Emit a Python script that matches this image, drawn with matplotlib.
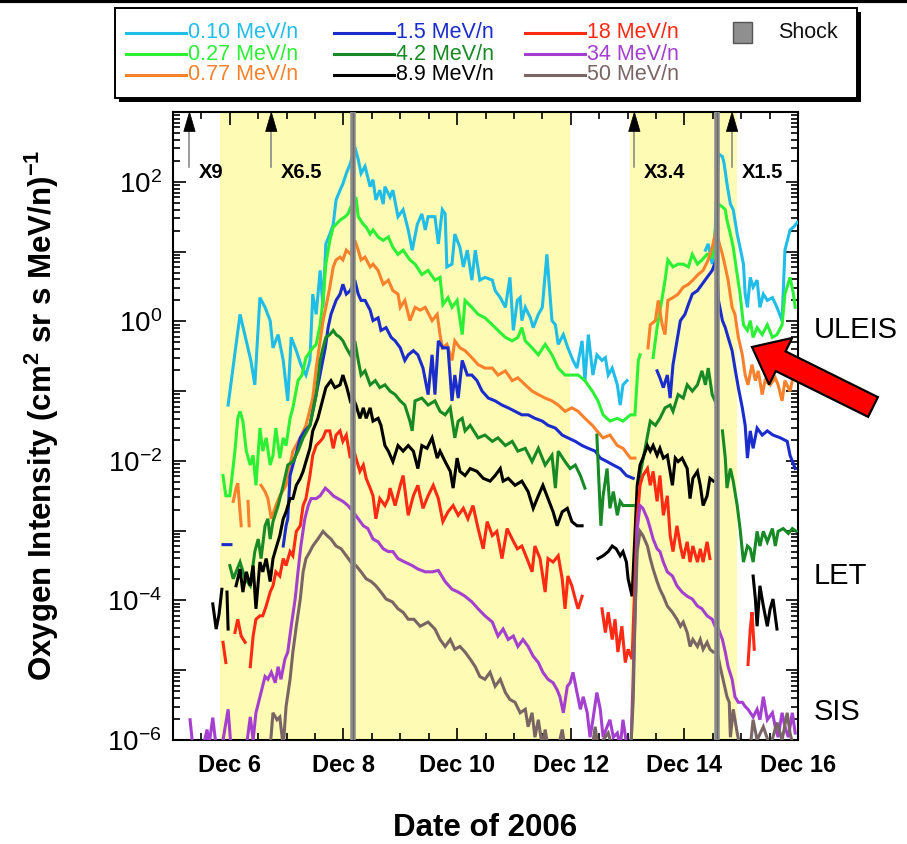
import numpy as np
import matplotlib
matplotlib.use("Agg")
import matplotlib.pyplot as plt
from matplotlib.patches import Rectangle, FancyArrow, Polygon
from matplotlib.ticker import FixedLocator, NullFormatter, FuncFormatter, MultipleLocator, LogLocator

plt.rcParams['font.family'] = ['Liberation Sans', 'DejaVu Sans']
plt.rcParams['mathtext.fontset'] = 'custom'
plt.rcParams['mathtext.rm'] = 'Liberation Sans'
plt.rcParams['mathtext.bf'] = 'Liberation Sans:bold'
plt.rcParams['mathtext.it'] = 'Liberation Sans:italic'

# ---------------------------------------------------------------
# Oxygen intensities, December 2006 (time in day-of-month,
# intensity given as log10 of (cm^2 sr s MeV/n)^-1; None = data gap)
# ---------------------------------------------------------------
energies = ['0.10', '0.27', '0.77', '1.5', '4.2', '8.9', '18', '34', '50']
colors = ['#1fbde8', '#2cf035', '#f9812c', '#1a2ccc', '#178a25',
          '#000000', '#ff2a14', '#a43fd0', '#7a6565']

t_010 = [5.97, 6.18, 6.37, 6.44, 6.53, 6.62, 6.71, 6.76, 6.85, 6.94, 7.02, 7.08, 7.17, 7.25, 7.34,
         7.41, 7.46, 7.52, 7.59, 7.64, 7.69, 7.76, 7.82, 7.87, 7.94, 7.99, 8.05, 8.12, 8.20, 8.26,
         8.31, 8.38, 8.47, 8.52, 8.57, 8.64, 8.70, 8.73, 8.82, 8.87, 8.96, 9.05, 9.14, 9.21, 9.30,
         9.38, 9.44, 9.49, 9.61, 9.67, 9.74, 9.79, 9.82, 9.91, 9.96, 10.05, 10.11, 10.18, 10.26,
         10.32, 10.40, 10.49, 10.62, 10.67, 10.76, 10.85, 10.93, 10.99, 11.06, 11.11, 11.14, 11.20,
         11.29, 11.34, 11.43, 11.50, 11.58, 11.67, 11.73, 11.78, 11.87, 11.95, 12.04, 12.11, 12.20,
         12.25, 12.31, 12.39, 12.46, 12.55, 12.61, 12.66, 12.73, 12.82, 12.87, 12.92, 12.99, 13.00,
         14.37, 14.42, 14.49, 14.54, 14.60, 14.67, 14.70, 14.75, 14.81, 14.86, 14.93, 14.98, 15.04,
         15.07, 15.11, 15.16, 15.21, 15.28, 15.33, 15.39, 15.46, 15.55, 15.63, 15.72, 15.77, 15.86,
         15.92, 15.99]
lg_010 = [-1.20, 0.10, -0.56, -0.91, 0.34, 0.20, 0.01, -0.38, -0.19, -0.56, -1.14, -0.23, -0.42, -0.62, -0.77,
          -0.56, 0.39, 0.10, 0.73, 0.20, 1.11, 1.25, 1.39, 1.74, 1.88, 1.97, 2.12, 2.26, 2.50, 2.32,
          2.12, 2.22, 1.93, 2.03, 1.74, 1.88, 1.68, 1.93, 1.78, 1.88, 1.50, 1.60, 1.31, 1.02, 1.39,
          1.54, 1.31, 1.50, 1.50, 1.11, 1.60, 1.54, 0.78, 0.82, 1.25, 1.06, 0.78, 1.02, 0.59,
          1.02, 0.59, 0.63, 0.59, 0.44, 0.34, 0.20, 0.63, -0.13, 0.30, 0.34, 0.01, 0.20,
          0.05, -0.09, 0.10, 0.20, 0.96, 0.01, -0.05, -0.33, -0.19, -0.38, -0.56, -0.67, -0.28,
          -0.85, -0.19, -0.77, -0.48, -0.56, -0.52, -0.77, -0.67, -0.91, -1.20, -0.91, -0.85, None,
          1.02, 1.11, 0.82, 1.25, 2.40, 2.36, 2.26, 1.97, 1.68, 1.60, 1.25, 1.06, 0.82,
          0.39, 0.20, 0.63, 0.49, 0.59, 0.20, 0.39, 0.30, 0.34, 0.20, 0.01, 1.02, 1.31,
          1.35, 1.42]

t_027 = [5.88, 5.93, 6.00, 6.09, 6.14, 6.18, 6.23, 6.29, 6.36, 6.41, 6.46, 6.53, 6.58, 6.64, 6.71,
         6.76, 6.81, 6.88, 6.94, 6.99, 7.06, 7.11, 7.20, 7.27, 7.34, 7.46, 7.52, 7.59, 7.64, 7.69,
         7.76, 7.82, 7.87, 7.94, 8.03, 8.08, 8.13, 8.22, 8.26, 8.35, 8.40, 8.47, 8.52, 8.61, 8.70,
         8.79, 8.87, 8.96, 9.05, 9.17, 9.26, 9.38, 9.49, 9.61, 9.70, 9.75, 9.84, 9.91, 10.00, 10.09,
         10.14, 10.26, 10.37, 10.49, 10.62, 10.72, 10.85, 10.97, 11.07, 11.14, 11.20, 11.32, 11.43,
         11.55, 11.67, 11.78, 11.90, 12.02, 12.13, 12.25, 12.38, 12.48, 12.57, 12.69, 12.82, 12.92,
         13.05, 13.13, 13.19, 13.22, 13.30,
         13.45, 13.52, 13.61, 13.66, 13.71, 13.80, 13.89, 13.98, 14.07, 14.14, 14.23, 14.31, 14.40,
         14.49, 14.54, 14.56, 14.60, 14.67, 14.72, 14.75, 14.81, 14.86, 14.93, 14.98, 15.04, 15.11,
         15.16, 15.21, 15.28, 15.37, 15.46, 15.55, 15.63, 15.72, 15.77, 15.86, 15.92, 15.95]
lg_027 = [-2.21, -2.50, -2.50, -1.86, -1.39, -1.29, -1.43, -1.86, -2.06, -1.92, -2.35, -1.53, -1.86, -1.67, -2.06,
          -1.92, -1.53, -1.96, -1.67, -1.78, -1.39, -1.24, -0.85, -0.77, -0.52, -0.38, -0.33, -0.05, 0.30, 0.82,
          1.16, 1.35, 1.39, 1.45, 1.50, 1.54, 1.64, 1.78, 1.50, 1.39, 1.35, 1.25, 1.31, 1.21, 1.16,
          1.21, 1.06, 0.96, 1.02, 0.88, 0.82, 0.67, 0.73, 0.59, 0.63, 0.24, 0.34, 0.20, 0.30, -0.19,
          0.30, 0.20, 0.10, 0.05, -0.05, -0.13, -0.23, -0.28, -0.23, -0.09, -0.28, -0.38, -0.48,
          -0.33, -0.48, -0.67, -0.77, -0.77, -0.77, -0.85, -1.00, -1.14, -1.34, -1.43, -1.39, -1.43,
          -1.34, -1.34, -0.56, -0.48, None,
          -0.52, -0.09, 0.34, 0.59, 0.88, 0.78, 0.82, 0.82, 0.78, 0.96, 0.82, 0.88, 0.96,
          0.92, 1.25, 1.42, 1.68, 1.64, 1.60, 1.45, 1.25, 1.06, 0.67, 0.39, -0.05, -0.13,
          0.01, -0.23, -0.09, -0.19, -0.05, -0.23, -0.19, -0.05, 0.39, 0.63, 0.39, 0.20]

t_077 = [6.06, 6.11, 6.14, 6.20, 6.26, 6.32, 6.34, 6.45,
         6.55, 6.62, 6.67, 6.73, 6.81, 6.88, 6.99, 7.11, 7.24, 7.34, 7.46, 7.52, 7.59, 7.64, 7.69,
         7.76, 7.82, 7.87, 7.94, 7.99, 8.05, 8.13, 8.20, 8.26, 8.31, 8.38, 8.47, 8.52, 8.61, 8.70,
         8.79, 8.87, 8.96, 9.00, 9.08, 9.17, 9.26, 9.35, 9.44, 9.56, 9.65, 9.70, 9.74, 9.82, 9.91,
         9.96, 10.05, 10.14, 10.26, 10.37, 10.49, 10.62, 10.72, 10.85, 10.97, 11.07, 11.20, 11.32,
         11.43, 11.55, 11.67, 11.78, 11.90, 12.02, 12.13, 12.25, 12.38, 12.46, 12.57, 12.69, 12.82,
         12.92, 13.05, 13.13, 13.25,
         13.36, 13.40, 13.49, 13.54, 13.61, 13.66, 13.71, 13.80, 13.89, 13.98, 14.07, 14.15, 14.24,
         14.33, 14.42, 14.49, 14.56, 14.60, 14.67, 14.72, 14.77, 14.84, 14.89, 14.95, 15.02, 15.07,
         15.12, 15.19, 15.25, 15.30, 15.37, 15.42, 15.51, 15.60, 15.65, 15.72, 15.77, 15.86, 15.92]
lg_077 = [-2.58, -2.39, -2.32, -2.93, None, -2.58, -2.93, None,
          -2.35, -2.44, -2.54, -2.83, -2.64, -2.50, -2.35, -1.86, -1.67, -1.49, -1.10, -0.67, -0.28, 0.01, 0.20,
          0.49, 0.78, 0.88, 0.92, 0.88, 1.02, 0.96, 1.16, 1.02, 0.88, 0.92, 0.78, 0.82, 0.73, 0.53,
          0.59, 0.44, 0.39, 0.20, 0.30, 0.01, 0.20, 0.16, 0.20, 0.01, 0.10, -0.19, -0.38, -0.33, -0.56,
          -0.28, -0.38, -0.42, -0.52, -0.62, -0.67, -0.67, -0.77, -0.71, -0.85, -0.81, -0.91, -1.00,
          -1.05, -1.10, -1.14, -1.20, -1.29, -1.24, -1.29, -1.39, -1.49, -1.57, -1.67, -1.63, -1.78,
          -1.82, -1.96, -1.96, None,
          -0.38, -0.05, 0.01, 0.30, -0.05, -0.19, 0.30, 0.34, 0.39, 0.49, 0.53, 0.59, 0.67,
          0.73, 0.88, 1.06, 1.31, 1.16, 0.96, 0.78, 0.59, 0.20, 0.10, -0.23, -0.48, -0.77,
          -0.91, -0.62, -0.85, -0.71, -1.05, -0.85, -0.91, -0.81, -0.91, -1.14, -0.85, -1.00, -0.77]

t_15 = [5.88, 6.02, 6.50,
        6.94, 6.99, 7.02, 7.06, 7.11, 7.18, 7.24, 7.32, 7.41, 7.52, 7.61, 7.68, 7.73, 7.78, 7.87,
        7.94, 7.99, 8.05, 8.12, 8.20, 8.26, 8.31, 8.38, 8.47, 8.52, 8.61, 8.66, 8.75, 8.84, 8.91,
        9.00, 9.08, 9.14, 9.23, 9.31, 9.40, 9.49, 9.56, 9.61, 9.67, 9.75, 9.84, 9.91, 9.96, 10.02,
        10.09, 10.18, 10.26, 10.35, 10.44, 10.55, 10.67, 10.79, 10.90, 11.02, 11.14, 11.25, 11.37,
        11.50, 11.60, 11.73, 11.85, 11.95, 12.08, 12.20, 12.31, 12.43, 12.52, 12.64, 12.75, 12.87,
        12.98, 13.10, 13.30,
        13.52, 13.57, 13.63, 13.70, 13.75, 13.80, 13.87, 13.93, 14.01, 14.07, 14.14, 14.23, 14.31,
        14.40, 14.49, 14.56, 14.60, 14.67, 14.72, 14.77, 14.84, 14.89, 14.95, 15.02, 15.07, 15.11,
        15.16, 15.21, 15.28, 15.37, 15.46, 15.56, 15.69, 15.81, 15.86, 15.95]
lg_15 = [-3.20, -3.20, None,
         -3.22, -2.93, -2.83, -2.21, -2.06, -1.86, -1.67, -1.57, -1.49, -1.05, -0.67, -0.38, -0.09, 0.10, 0.30,
         0.39, 0.53, 0.39, 0.44, 0.59, 0.39, 0.30, 0.30, 0.16, 0.01, 0.05, -0.13, -0.09, -0.23, -0.28,
         -0.38, -0.56, -0.48, -0.42, -0.48, -0.67, -1.05, -0.48, -1.05, -0.28, -0.38, -0.38, -1.14, -0.77, -1.10,
         -0.56, -0.77, -0.77, -0.85, -1.00, -1.10, -1.14, -1.20, -1.24, -1.29, -1.34, -1.34, -1.39,
         -1.43, -1.49, -1.53, -1.63, -1.67, -1.72, -1.78, -1.82, -1.86, -1.96, -2.01, -2.06, -2.11,
         -2.21, -2.25, None,
         -0.71, -0.81, -0.95, -0.77, -1.10, -0.62, -0.28, 0.01, 0.10, 0.24, 0.39, 0.44, 0.53,
         0.63, 0.73, 0.88, 0.30, 0.01, -0.09, -0.23, -0.42, -0.67, -0.95, -1.24, -1.49, -1.96,
         -1.57, -1.82, -1.53, -1.63, -1.57, -1.63, -1.67, -1.72, -1.92, -2.11]

t_42 = [6.00, 6.06, 6.11, 6.18, 6.27, 6.36, 6.44, 6.50, 6.55, 6.62, 6.67, 6.71, 6.76, 6.85, 6.94,
        7.02, 7.11, 7.20, 7.29, 7.41, 7.52, 7.59, 7.64, 7.69, 7.76, 7.82, 7.87, 7.94, 7.99, 8.05,
        8.12, 8.20, 8.26, 8.31, 8.38, 8.47, 8.56, 8.64, 8.73, 8.82, 8.91, 9.00, 9.08, 9.17, 9.21,
        9.26, 9.38, 9.49, 9.61, 9.70, 9.79, 9.88, 9.96, 10.02, 10.09, 10.14, 10.23, 10.37, 10.49,
        10.62, 10.72, 10.85, 10.97, 11.07, 11.20, 11.32, 11.43, 11.55, 11.67, 11.73, 11.78, 11.90,
        11.99, 12.08, 12.17, 12.25, 12.35,
        12.46, 12.50, 12.53, 12.57, 12.64, 12.69, 12.75, 12.82, 12.87, 12.92, 13.01, 13.10, 13.15,
        13.19, 13.26, 13.31, 13.40, 13.49, 13.57, 13.66, 13.75, 13.80, 13.89, 13.98, 14.05, 14.14,
        14.23, 14.31, 14.37, 14.42, 14.49, 14.54, 14.60,
        14.67, 14.72, 14.75, 14.81, 14.86, 14.93, 14.98, 15.04, 15.11, 15.16, 15.21, 15.28, 15.33,
        15.39, 15.46, 15.55, 15.60, 15.65, 15.74, 15.83, 15.90, 15.97]
lg_42 = [-3.50, -3.69, -3.59, -3.45, -3.69, -3.79, -3.30, -3.12, -3.40, -2.93, -2.83, -3.12, -2.87, -2.64, -2.35,
         -2.06, -2.01, -1.86, -1.67, -1.49, -1.05, -0.56, -0.38, -0.23, -0.19, -0.13, -0.19, -0.23, -0.28, -0.38,
         -0.48, -0.28, -0.56, -0.77, -0.71, -0.91, -0.85, -0.95, -0.91, -1.00, -1.05, -1.14, -1.20, -1.43, -1.57,
         -1.14, -1.10, -1.20, -1.14, -1.29, -1.34, -1.24, -1.67, -1.43, -1.39, -1.57, -1.49, -1.67, -1.63,
         -1.72, -1.67, -1.78, -1.72, -1.86, -1.82, -2.01, -1.82, -2.06, -1.92, -2.39, -1.86, -2.01,
         -2.11, -2.06, -2.21, -2.39, None,
         -1.63, -2.39, -2.93, -2.50, -2.11, -2.68, -2.44, -2.78, -2.58, -2.64, -2.64, -2.64, None,
         -2.32, -2.03, -1.82, -1.43, -1.49, -1.39, -1.24, -1.20, -1.29, -1.05, -1.10, -0.91, -1.00,
         -0.91, -0.71, -0.91, -0.67, -1.05, -1.14, None,
         -1.57, -1.96, -2.39, -2.11, -2.29, -2.64, -2.97, -3.45, -3.22, -3.26, -3.45, -3.01, -3.22,
         -3.01, -3.16, -2.97, -3.22, -3.01, -2.97, -3.04, -2.97, -3.01]

t_89 = [5.70, 5.76, 5.81, 5.86, 5.90, 5.95, 5.97, 6.05,
        6.11, 6.18, 6.23, 6.29, 6.36, 6.41, 6.46, 6.53, 6.58, 6.64, 6.71, 6.76, 6.81, 6.88, 6.94,
        6.99, 7.06, 7.11, 7.17, 7.24, 7.29, 7.34, 7.41, 7.46, 7.55, 7.61, 7.64, 7.69, 7.78, 7.85,
        7.94, 7.99, 8.06, 8.12, 8.17, 8.22, 8.29, 8.35, 8.40, 8.47, 8.52, 8.61, 8.66, 8.73, 8.79,
        8.87, 8.96, 9.05, 9.14, 9.23, 9.31, 9.38, 9.47, 9.56, 9.65, 9.70, 9.79, 9.88, 9.93, 10.00,
        10.05, 10.14, 10.23, 10.35, 10.46, 10.58, 10.67, 10.76, 10.81, 10.90, 11.02, 11.14, 11.25,
        11.34, 11.43, 11.51, 11.60, 11.69, 11.76, 11.85, 11.94, 12.02, 12.11, 12.20, 12.35,
        12.48, 12.57, 12.66, 12.73, 12.80, 12.87, 12.92, 12.98, 13.01, 13.08, 13.17, 13.22, 13.27,
        13.35, 13.40, 13.45, 13.52, 13.57, 13.63, 13.70, 13.79, 13.84, 13.89, 13.96, 14.05, 14.10,
        14.15, 14.23, 14.28, 14.33, 14.40, 14.45, 14.51, 14.80,
        15.21, 15.25, 15.28, 15.33, 15.39, 15.46, 15.51, 15.56, 15.63]
lg_89 = [-4.05, -4.41, -4.20, -3.84, None, -3.88, -4.41, None,
         -3.79, -3.55, -3.88, -3.59, -3.79, -3.50, -4.12, -3.45, -3.59, -3.40, -3.73, -3.40, -3.26, -3.07, -2.83,
         -2.73, -2.54, -2.54, -2.35, -2.25, -2.15, -2.01, -1.82, -1.57, -1.39, -1.20, -1.10, -0.95, -0.85, -0.95,
         -0.91, -0.77, -0.95, -1.14, -1.10, -1.20, -1.39, -1.24, -1.39, -1.24, -1.43, -1.39, -1.49, -1.78, -1.86,
         -2.01, -1.78, -1.86, -1.78, -1.86, -2.11, -1.78, -1.82, -1.67, -1.96, -1.86, -2.01, -2.15, -2.39, -1.96,
         -2.15, -2.21, -2.11, -2.15, -2.25, -2.29, -2.21, -2.11, -2.29, -2.25, -2.35, -2.29, -2.44,
         -2.68, -2.50, -2.35, -2.54, -2.73, -2.93, -2.73, -2.68, -2.87, -2.93, -2.93, None,
         -3.40, -3.36, -3.30, -3.22, -3.26, -3.36, -3.30, -3.45, -3.69, -3.94, -2.35, -2.06, -1.96,
         -1.78, -1.86, -1.78, -1.92, -1.82, -1.96, -1.92, -2.35, -1.96, -2.01, -1.96, -2.11, -2.54,
         -2.25, -2.15, -2.35, -2.64, -2.50, -2.25, -2.29, None,
         -3.65, -3.98, -4.37, -3.79, -4.08, -4.37, -4.12, -3.98, -4.41]

t_18 = [5.88, 5.93, 6.00, 6.09, 6.14, 6.20, 6.27, 6.31,
        6.36, 6.41, 6.46, 6.53, 6.58, 6.64, 6.71, 6.76, 6.81, 6.88, 6.94, 6.99, 7.06, 7.11, 7.17,
        7.24, 7.29, 7.34, 7.41, 7.46, 7.52, 7.59, 7.64, 7.69, 7.76, 7.82, 7.87, 7.94, 7.99, 8.05,
        8.12, 8.17, 8.22, 8.29, 8.35, 8.40, 8.47, 8.52, 8.57, 8.64, 8.73, 8.79, 8.82, 8.91, 9.00,
        9.05, 9.14, 9.23, 9.31, 9.40, 9.49, 9.58, 9.67, 9.75, 9.84, 9.93, 10.02, 10.11, 10.19,
        10.28, 10.37, 10.46, 10.53, 10.62, 10.70, 10.79, 10.88, 10.97, 11.06, 11.14, 11.23, 11.32,
        11.37, 11.46, 11.55, 11.60, 11.69, 11.78, 11.85, 11.90, 11.95, 12.02, 12.08, 12.13, 12.20,
        12.35,
        12.55, 12.61, 12.66, 12.73, 12.78, 12.83, 12.90, 12.96, 13.01, 13.08, 13.17, 13.22, 13.27,
        13.35, 13.40, 13.45, 13.52, 13.57, 13.63, 13.70, 13.75, 13.80, 13.87, 13.93, 13.98, 14.05,
        14.10, 14.15, 14.23, 14.28, 14.33, 14.40, 14.45, 14.80,
        15.12, 15.16, 15.19, 15.23]
lg_18 = [-4.60, -4.89, None, -4.46, -4.27, -4.51, -4.60, None,
         -4.95, -4.51, -4.27, -4.22, -4.22, -4.08, -3.88, -3.79, -3.59, -3.65, -3.40, -3.50, -3.30, -3.36, -3.01,
         -2.93, -2.64, -2.54, -2.21, -1.92, -1.78, -1.72, -1.67, -1.57, -1.57, -1.82, -1.63, -1.57, -1.72, -1.63,
         -1.96, -1.82, -1.96, -2.15, -2.06, -2.25, -2.39, -2.50, -2.83, -2.54, -2.64, -2.54, -2.39, -2.64, -2.35,
         -2.21, -2.78, -2.50, -2.35, -2.68, -2.50, -2.35, -2.54, -2.87, -2.73, -2.64, -2.78, -2.68, -2.83,
         -2.64, -2.97, -3.26, -2.87, -3.07, -3.01, -3.40, -2.97, -3.12, -3.26, -3.22, -3.40, -3.59,
         -3.22, -3.40, -3.88, -3.40, -3.45, -3.36, -3.69, -4.12, -3.65, -3.79, -3.98, -4.12, -3.94,
         None,
         -4.12, -4.46, -4.17, -4.56, -4.27, -4.74, -4.37, -4.89, -4.70, -4.84, -2.83, -2.35, -2.21,
         -2.11, -2.35, -2.15, -2.58, -2.21, -2.78, -2.50, -3.07, -3.30, -2.93, -3.22, -3.40, -3.16,
         -3.45, -3.22, -3.45, -3.26, -3.45, -3.16, -3.40, None,
         -4.92, -4.41, -4.17, -4.70]

t_34 = [5.30, 5.35, 5.44, 5.53, 5.60, 5.63, 5.70, 5.76, 5.86, 5.97, 6.02, 6.18, 6.29, 6.36, 6.41,
        6.46, 6.55, 6.62, 6.67, 6.73, 6.80, 6.85, 6.90, 6.97, 7.02, 7.08, 7.15, 7.20, 7.25, 7.32,
        7.38, 7.43, 7.52, 7.59, 7.68, 7.75, 7.82, 7.90, 7.99, 8.08, 8.17, 8.26, 8.35, 8.43, 8.52,
        8.61, 8.70, 8.79, 8.87, 8.96, 9.08, 9.21, 9.31, 9.44, 9.56, 9.67, 9.79, 9.91, 10.02, 10.14,
        10.26, 10.37, 10.49, 10.62, 10.72, 10.81, 10.90, 10.99, 11.07, 11.16, 11.25, 11.34, 11.43,
        11.51, 11.60, 11.69, 11.76, 11.81, 11.87, 11.94, 11.99, 12.04, 12.11, 12.17, 12.22, 12.29,
        12.34, 12.39, 12.46, 12.52, 12.57, 12.64, 12.69, 12.75, 12.82, 12.87, 12.92, 12.99, 13.06,
        13.13, 13.17, 13.22, 13.27, 13.35, 13.40, 13.45, 13.52, 13.57, 13.63, 13.70, 13.79, 13.87,
        13.96, 14.05, 14.14, 14.23, 14.31, 14.40, 14.49, 14.54, 14.60, 14.67, 14.72, 14.77, 14.84,
        14.89, 14.95, 15.02, 15.07, 15.12, 15.21, 15.28, 15.33, 15.39, 15.46, 15.55, 15.60, 15.65,
        15.72, 15.77, 15.83, 15.90, 15.95]
lg_34 = [-5.71, -6.10, -6.10, -6.10, -5.85, -6.10, -5.68, -6.10, -6.10, -5.56, -6.10, -6.10, -6.10, -5.67, -6.00,
         -5.61, -5.32, -5.09, -5.13, -5.03, -5.18, -4.95, -5.13, -4.84, -4.74, -4.37, -3.98, -3.59, -3.22, -2.83,
         -2.64, -2.54, -2.54, -2.50, -2.39, -2.44, -2.50, -2.54, -2.58, -2.64, -2.73, -2.83, -2.93, -2.97, -3.12,
         -3.16, -3.26, -3.30, -3.30, -3.40, -3.45, -3.50, -3.55, -3.59, -3.59, -3.57, -3.73, -3.84, -3.88, -3.94,
         -4.02, -4.12, -4.22, -4.31, -4.51, -4.41, -4.56, -4.51, -4.66, -4.56, -4.66, -4.80, -4.89,
         -5.03, -5.13, -5.18, -5.28, -5.38, -5.61, -5.23, -5.18, -5.03, -5.32, -5.56, -5.38, -5.61,
         -5.96, -5.71, -5.32, -5.56, -5.96, -5.81, -5.71, -5.96, -5.90, -6.10, -5.71, -6.10, -6.10,
         -4.27, -2.97, -2.64, -2.68, -2.83, -2.97, -3.12, -3.26, -3.30, -3.45, -3.59, -3.65, -3.79,
         -3.88, -3.94, -3.98, -4.08, -4.12, -4.22, -4.27, -4.37, -4.41, -4.56, -4.74, -4.95, -5.13,
         -5.38, -5.46, -5.46, -5.52, -5.56, -5.67, -5.56, -5.71, -5.38, -5.71, -5.61, -5.81, -5.96,
         -5.61, -5.81, -5.96, -5.61, -5.90]

t_50 = [6.71, 6.76, 6.83, 6.88, 6.94, 6.99, 7.06, 7.11, 7.17, 7.24, 7.29, 7.34, 7.41, 7.46, 7.55,
        7.64, 7.71, 7.78, 7.87, 7.96, 8.05, 8.13, 8.22, 8.31, 8.40, 8.49, 8.57, 8.66, 8.75, 8.86,
        8.96, 9.05, 9.14, 9.24, 9.35, 9.49, 9.61, 9.70, 9.79, 9.88, 9.96, 10.05, 10.14, 10.23,
        10.32, 10.40, 10.49, 10.58, 10.67, 10.76, 10.85, 10.93, 11.02, 11.11, 11.20, 11.25, 11.32,
        11.37, 11.43, 11.50, 11.55, 11.60, 11.69, 11.78, 11.85, 11.90, 11.99, 12.38, 12.43, 12.48,
        12.66, 12.73, 13.06, 13.10, 13.13, 13.17, 13.22, 13.27, 13.35, 13.40, 13.45, 13.52, 13.57,
        13.63, 13.70, 13.79, 13.87, 13.93, 13.98, 14.05, 14.10, 14.15, 14.23, 14.28, 14.33, 14.40,
        14.45, 14.51, 14.58, 14.63, 14.68, 14.75, 14.79, 14.81, 14.86, 14.93, 14.98, 15.16, 15.21,
        15.28, 15.39, 15.51, 15.63, 15.72, 15.81, 15.86, 15.92]
lg_50 = [-6.10, -5.61, -5.71, -5.67, -6.10, -5.52, -5.13, -4.74, -4.37, -3.98, -3.59, -3.40, -3.30, -3.22, -3.12,
         -3.01, -3.07, -3.12, -3.22, -3.26, -3.36, -3.45, -3.50, -3.59, -3.69, -3.73, -3.79, -3.88, -3.98, -4.02,
         -4.12, -4.17, -4.27, -4.27, -4.37, -4.31, -4.41, -4.56, -4.66, -4.56, -4.70, -4.66, -4.74, -4.84,
         -4.95, -5.09, -5.13, -5.03, -5.23, -5.13, -5.32, -5.42, -5.46, -5.61, -5.56, -5.81, -5.61,
         -5.96, -5.71, -6.10, -5.85, -6.10, -6.10, -6.10, -5.85, -6.10, -6.10, -6.10, -5.81, -6.10,
         -5.90, -6.10, -6.10, -5.42, -4.27, -3.30, -3.01, -3.07, -3.22, -3.40, -3.55, -3.73, -3.84,
         -3.94, -4.08, -4.17, -4.27, -4.37, -4.31, -4.46, -4.66, -4.56, -4.66, -4.56, -4.70, -4.60,
         -4.70, -4.74, -4.74, -4.95, -5.13, -5.38, -5.46, -5.96, -5.56, -5.90, -6.10, -6.10, -5.71,
         -6.00, -5.81, -6.10, -5.75, -6.00, -5.61, -5.90, -6.10]

times = [t_010, t_027, t_077, t_15, t_42, t_89, t_18, t_34, t_50]
log_intensity = [lg_010, lg_027, lg_077, lg_15, lg_42, lg_89, lg_18, lg_34, lg_50]

# event markers
shaded_periods = [(5.83, 11.98), (13.05, 14.92)]
shock_times = [8.17, 14.57]
flare_times = [5.29, 6.73, 13.12, 14.84]
flare_classes = ['X9', 'X6.5', 'X3.4', 'X1.5']
date_ticks = [6, 8, 10, 12, 14, 16]
date_labels = ['Dec 6', 'Dec 8', 'Dec 10', 'Dec 12', 'Dec 14', 'Dec 16']
instruments = ['ULEIS', 'LET', 'SIS']

# ---------------------------------------------------------------
W, H = 907, 844
fig = plt.figure(figsize=(W / 100, H / 100), dpi=100)
ax = fig.add_axes([173 / W, 1 - 740 / H, 625 / W, 628 / H])

for a, b in shaded_periods:
    ax.axvspan(a, b, color='#fefbb4', zorder=0, lw=0)

for t, lg, c in zip(times, log_intensity, colors):
    tt = np.array(t, dtype=float)
    yy = 10.0 ** np.array(lg, dtype=float)
    ax.plot(tt, yy, color=c, lw=2.2, solid_joinstyle='miter', zorder=3)

for ts in shock_times:
    ax.axvline(ts, color='#8d8d8d', lw=4.0, zorder=6)
    ax.axvline(ts, color='#6a6a6a', lw=1.0, zorder=6)

ax.set_yscale('log')
ax.set_xlim(5, 16)
ax.set_ylim(1e-6, 1e3)

# flare arrows along the top edge
xt = ax.get_xaxis_transform()
for tf, lab in zip(flare_times, flare_classes):
    ax.plot([tf, tf], [0.912, 0.972], color='#8a8a8a', lw=1.2, transform=xt, zorder=7, clip_on=False)
    ax.add_patch(Polygon([[tf - 0.10, 0.969], [tf + 0.10, 0.969], [tf, 1.0]], closed=True,
                         facecolor='black', edgecolor='black', lw=0.5, transform=xt, zorder=7))
    ax.text(tf + 0.17, 0.904, lab, transform=xt, fontsize=14.5, fontweight='bold',
            ha='left', va='center', zorder=7)

ax.xaxis.set_major_locator(FixedLocator(date_ticks))
ax.xaxis.set_minor_locator(MultipleLocator(0.5))
ax.set_xticklabels(date_labels, fontsize=17, fontweight='bold')
ax.yaxis.set_major_locator(LogLocator(base=10, numticks=20))
ax.yaxis.set_minor_locator(LogLocator(base=10, subs=np.arange(2, 10), numticks=20))
ax.yaxis.set_minor_formatter(NullFormatter())


def exp_label(v, pos):
    e = int(round(np.log10(v)))
    if e % 2:
        return ''
    return r'$\mathregular{10^{%d}}$' % e


ax.yaxis.set_major_formatter(FuncFormatter(exp_label))
ax.tick_params(axis='both', which='both', direction='in', top=True, right=True, width=1.2)
ax.tick_params(axis='both', which='major', length=9)
ax.tick_params(axis='both', which='minor', length=5)
ax.tick_params(axis='y', which='major', labelsize=20, pad=8)
ax.tick_params(axis='x', which='major', pad=10)
for s in ax.spines.values():
    s.set_linewidth(1.5)

fig.text(42 / W, 1 - 415 / H, r'Oxygen Intensity (cm$^{\mathbf{2}}$ sr s MeV/n)$^{\mathbf{-1}}$',
         rotation=90, fontsize=22.5, fontweight='bold', ha='center', va='center')
fig.text(485 / W, 1 - 828 / H, 'Date of 2006', fontsize=22.5, fontweight='bold',
         ha='center', va='center')
for lab, py in zip(instruments, [330, 576, 712]):
    fig.text(814 / W, 1 - py / H, lab, fontsize=21, ha='left', va='center')

# overlay in pixel units for the key box and the pointer
ov = fig.add_axes([0, 0, 1, 1], zorder=10)
ov.set_xlim(0, W)
ov.set_ylim(H, 0)
ov.axis('off')
ov.patch.set_alpha(0)

ov.plot([0, W], [1.2, 1.2], color='black', lw=3)
ov.add_patch(Rectangle((119, 12), 742, 90, facecolor='black', edgecolor='none'))
ov.add_patch(Rectangle((115, 8), 742, 90, facecolor='white', edgecolor='black', lw=1.4))

col_x = [126, 334, 525]
row_y = [33, 54, 75]
for i, (e, c) in enumerate(zip(energies, colors)):
    x0 = col_x[i // 3]
    y0 = row_y[i % 3]
    ov.plot([x0, x0 + 60], [y0, y0], color=c, lw=2.2)
    ov.text(x0 + 62, y0, f'{e} MeV/n', color=c, fontsize=15.5, ha='left', va='center')
ov.add_patch(Rectangle((733, 22), 19, 21, facecolor='#8f8f8f', edgecolor='#555555', lw=1))
ov.text(778, 33, 'Shock', fontsize=15.5, ha='left', va='center', color='#111111')

ov.add_patch(FancyArrow(873, 407, -121, -60, width=22, head_width=52, head_length=32,
                        length_includes_head=True, facecolor='#ff0000', edgecolor='black', lw=1.6))

fig.savefig('out.png', dpi=100)
